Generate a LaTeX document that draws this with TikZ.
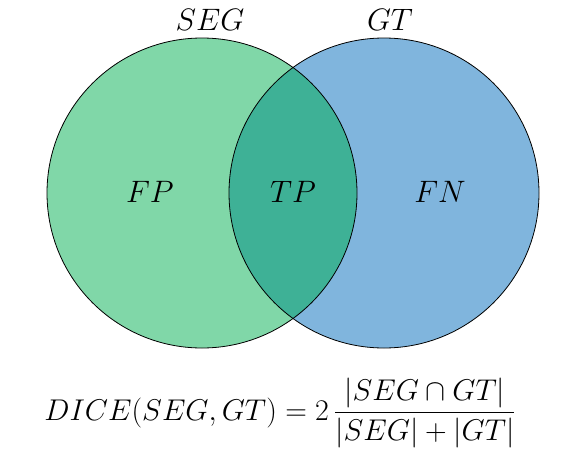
\RequirePackage{fix-cm}
\documentclass[tikz,border=0pt]{standalone}
\usepackage{amsmath}
\usepackage{amssymb}
\usepackage{tikz}

\definecolor{seggreen}{RGB}{128,215,168}
\definecolor{gtblue}{RGB}{128,181,221}
\definecolor{tpgreen}{RGB}{62,177,150}

\begin{document}
\begin{tikzpicture}[x=1pt, y=-1pt,
	lbl/.style={font=\fontsize{31}{36}\selectfont, inner sep=0pt},
	formula/.style={font=\fontsize{30}{35}\selectfont, inner sep=0pt}]
\useasboundingbox (0,0) rectangle (570,461);

\coordinate (cseg) at (202,193);
\coordinate (cgt) at (384,193);

% the two sets
\fill[seggreen] (cseg) circle (155pt);
\fill[gtblue] (cgt) circle (155pt);
\begin{scope}
	\clip (cseg) circle (155pt);
	\fill[tpgreen] (cgt) circle (155pt);
\end{scope}
\draw[black, line width=0.8pt] (cseg) circle (155pt);
\draw[black, line width=0.8pt] (cgt) circle (155pt);

\node[lbl] (seg) at (210,20) {$SEG$};
\node[lbl] (gt) at (390,20) {$GT$};
\node[lbl] (fp) at (150,192) {$FP$};
\node[lbl] (tp) at (293,192) {$TP$};
\node[lbl] (fn) at (440,192) {$FN$};

\node[formula] (dice) at (280,413) {$DICE(SEG,GT) = 2\,\dfrac{|SEG \cap GT|}{|SEG| + |GT|}$};
\end{tikzpicture}
\end{document}
